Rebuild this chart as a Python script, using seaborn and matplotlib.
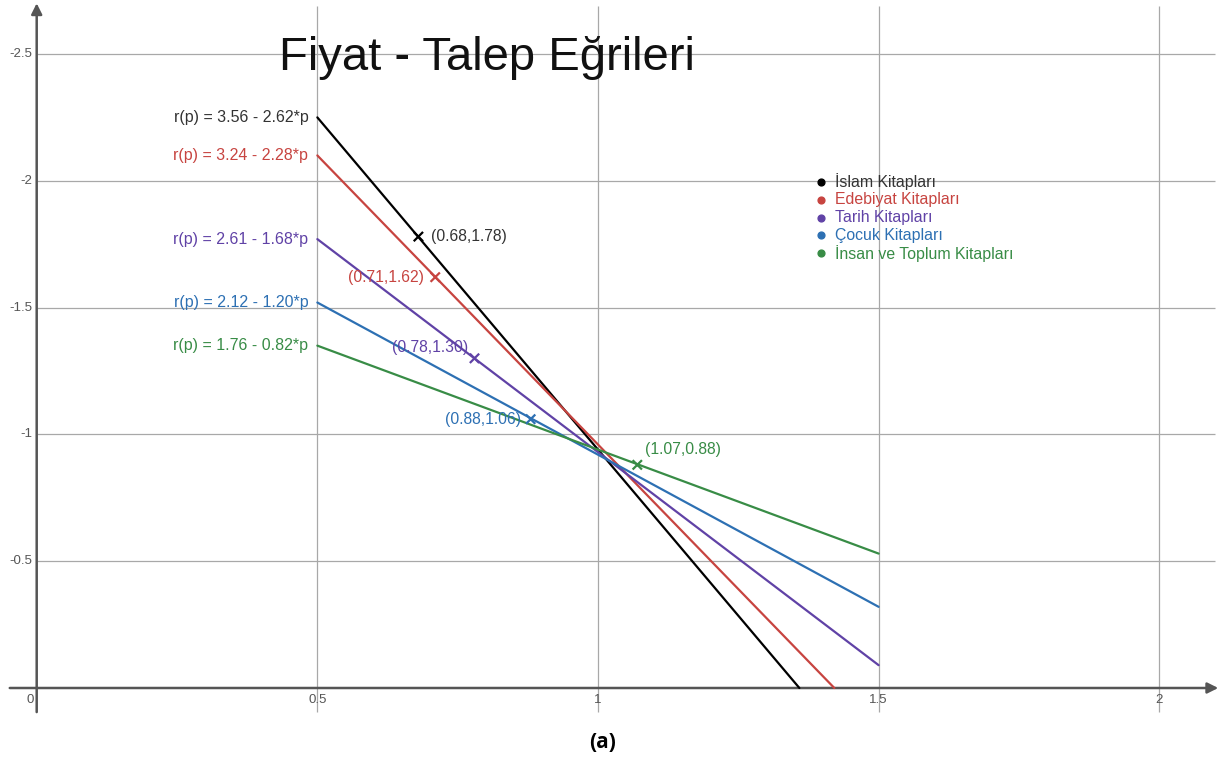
import numpy as np
import pandas as pd
import matplotlib
matplotlib.use("Agg")
import matplotlib.pyplot as plt
import seaborn as sns

# Demand curves r(p) = a - b*p for each book category
series = ["İslam Kitapları", "Edebiyat Kitapları", "Tarih Kitapları",
          "Çocuk Kitapları", "İnsan ve Toplum Kitapları"]
intercepts = [3.56, 3.24, 2.61, 2.12, 1.76]
slopes = [2.62, 2.28, 1.68, 1.20, 0.82]

# Marked points on each curve
point_p = [0.68, 0.71, 0.78, 0.88, 1.07]
point_r = [1.78, 1.62, 1.30, 1.06, 0.88]
point_labels = ["(0.68,1.78)", "(0.71,1.62)", "(0.78,1.30)", "(0.88,1.06)", "(1.07,0.88)"]

line_colors = ["#000000", "#c74440", "#6042a6", "#2d70b3", "#388c46"]
text_colors = ["#333333", "#c74440", "#6042a6", "#2d70b3", "#388c46"]

p_start, p_stop = 0.5, 1.5

x_ticks = [0, 0.5, 1, 1.5, 2]
x_tick_labels = ["0", "0.5", "1", "1.5", "2"]
y_ticks = [0.5, 1, 1.5, 2, 2.5]
y_tick_labels = ["-0.5", "-1", "-1.5", "-2", "-2.5"]

title = "Fiyat - Talep Eğrileri"
caption = "(a)"

sns.set_style("white")
plt.rcParams["font.family"] = ["Liberation Sans", "DejaVu Sans"]

W, H, DPI = 1219, 760, 100
fig = plt.figure(figsize=(W / DPI, H / DPI), dpi=DPI)
ax = fig.add_axes([0, 0, 1, 1])

# pixel scale of the plane
ox, oy = 36.7, 688.0
sx, sy = 561.3, 253.6
ax.set_xlim(-ox / sx, (W - ox) / sx)
ax.set_ylim(-(H - oy) / sy, oy / sy)
ax.set_axis_off()

# grid
grid_c = "#a8a8a8"
ax.vlines(x_ticks[1:], -0.095, 2.69, color=grid_c, lw=0.9, zorder=0)
ax.hlines(y_ticks, 0, 2.10, color=grid_c, lw=0.9, zorder=0)

# axes with arrows
axis_c = "#555555"
ax.annotate("", xy=(2.105, 0), xytext=(-0.048, 0),
            arrowprops=dict(arrowstyle="-|>", color=axis_c, lw=1.8,
                            mutation_scale=16, shrinkA=0, shrinkB=0), zorder=1)
ax.annotate("", xy=(0, 2.70), xytext=(0, -0.095),
            arrowprops=dict(arrowstyle="-|>", color=axis_c, lw=1.8,
                            mutation_scale=16, shrinkA=0, shrinkB=0), zorder=1)

# tick labels
tick_c = "#555555"
for xv, lab in zip(x_ticks, x_tick_labels):
    dx = -7 if xv == 0 else 0
    ax.annotate(lab, xy=(xv, 0), xytext=(dx, -6), textcoords="offset pixels",
                ha="center", va="top", fontsize=9.5, color=tick_c)
for yv, lab in zip(y_ticks, y_tick_labels):
    ax.annotate(lab, xy=(0, yv), xytext=(-4, 0), textcoords="offset pixels",
                ha="right", va="center", fontsize=9.5, color=tick_c)

# curve segments
rows = []
for name, a, b in zip(series, intercepts, slopes):
    p_end = min(p_stop, a / b)
    for p in (p_start, p_end):
        rows.append({"series": name, "p": p, "r": a - b * p})
lines = pd.DataFrame(rows)
palette = dict(zip(series, line_colors))
sns.lineplot(data=lines, x="p", y="r", hue="series", palette=palette,
             estimator=None, sort=False, lw=1.6, legend=False, ax=ax, zorder=3)

pts = pd.DataFrame({"series": series, "p": point_p, "r": point_r})
sns.scatterplot(data=pts, x="p", y="r", hue="series", palette=palette,
                marker="x", s=45, linewidth=1.6, legend=False, ax=ax, zorder=4)
ax.set_xlabel("")
ax.set_ylabel("")

# equation labels at the start of each curve
for a, b, c in zip(intercepts, slopes, text_colors):
    ax.annotate(f"r(p) = {a:.2f} - {b:.2f}*p", xy=(p_start, a - b * p_start),
                xytext=(-9, 0), textcoords="offset pixels",
                ha="right", va="center", fontsize=11.5, color=c)

# point labels
offsets = [(13, 0, "left"), (-11, 0, "right"), (-6, 11, "right"),
           (-10, 0, "right"), (8, 15, "left")]
for p, r, lab, c, (dx, dy, ha) in zip(point_p, point_r, point_labels, text_colors, offsets):
    ax.annotate(lab, xy=(p, r), xytext=(dx, dy), textcoords="offset pixels",
                ha=ha, va="center", fontsize=11.3, color=c)

# legend
for i, (name, lc, tc) in enumerate(zip(series, line_colors, text_colors)):
    yy = 1 - (182 + 17.8 * i) / H
    ax.scatter([821 / W], [yy], s=24, color=lc, transform=ax.transAxes, zorder=5)
    ax.text(835 / W, yy, name, transform=ax.transAxes, ha="left", va="center",
            fontsize=11.4, color=tc)

# title and caption
fig.text(487 / W, 1 - 58 / H, title, ha="center", va="center", fontsize=34, color="#111111")
fig.text(603 / W, 1 - 742 / H, caption, ha="center", va="center", fontsize=15,
         fontweight="bold", family=["Open Sans", "DejaVu Sans"], color="#000000")

fig.savefig("out.png", dpi=DPI, facecolor="white")
